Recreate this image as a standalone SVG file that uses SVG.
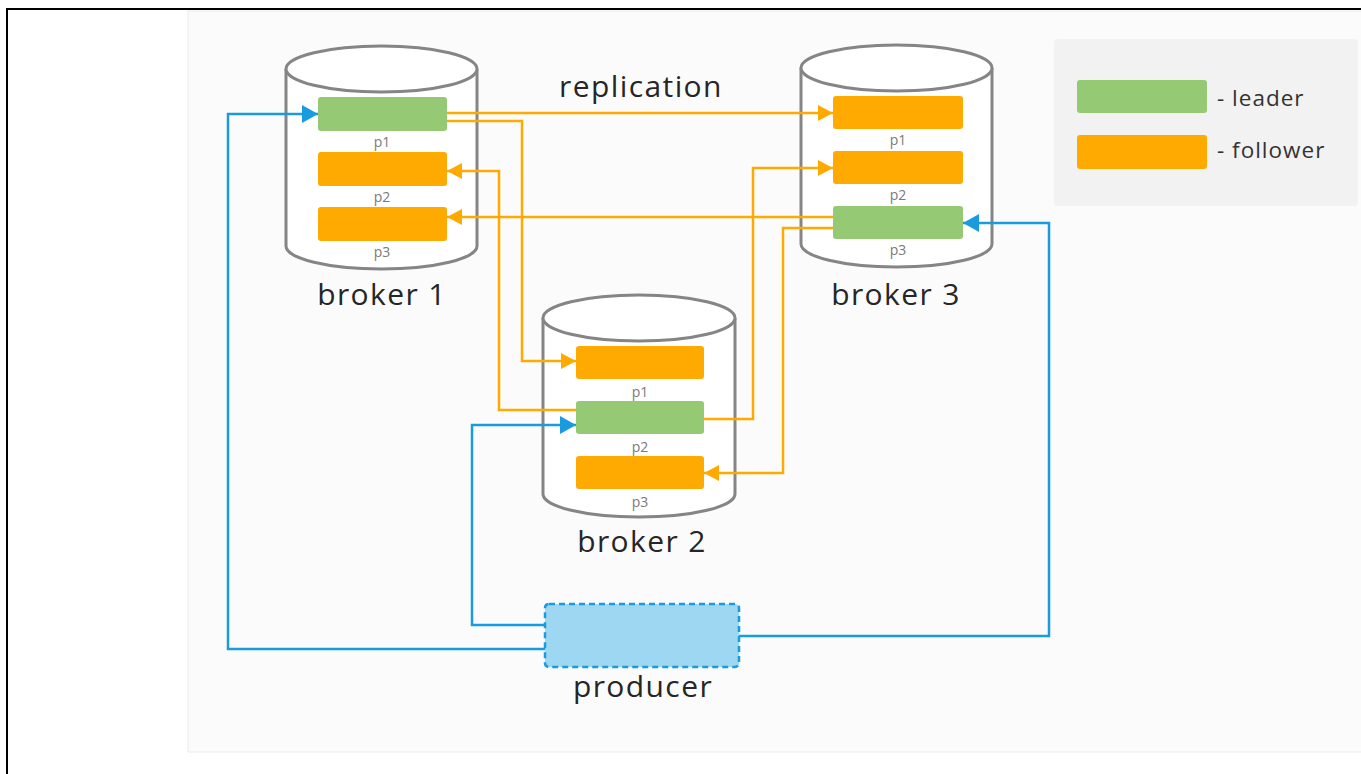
<svg xmlns="http://www.w3.org/2000/svg" width="1361" height="774" viewBox="0 0 1361 774">
<style>
.cyl{fill:#ffffff;stroke:#858585;stroke-width:3}
.lead{fill:#95c973}
.foll{fill:#ffaa00}
.pl{font-family:"Open Sans","Liberation Sans",sans-serif;font-size:14px;fill:#7a7a7a;text-anchor:middle}
.big{font-family:"Open Sans","Liberation Sans",sans-serif;font-size:30px;letter-spacing:1.4px;fill:#262626;text-anchor:middle}
.leg{font-family:"Open Sans","Liberation Sans",sans-serif;font-size:22.5px;letter-spacing:1px;fill:#333333}
.or{fill:none;stroke:#ffaa00;stroke-width:2.5;marker-end:url(#ao)}
.bl{fill:none;stroke:#1a9be0;stroke-width:2.5;marker-end:url(#ab)}
</style>
<defs>
<marker id="ao" markerUnits="userSpaceOnUse" markerWidth="16" markerHeight="16" refX="15" refY="8" orient="auto"><path d="M0,0 L15,8 L0,16 z" fill="#ffaa00"/></marker>
<marker id="ab" markerUnits="userSpaceOnUse" markerWidth="18" markerHeight="18" refX="16" refY="9" orient="auto"><path d="M0,0 L16,9 L0,18 z" fill="#1a9be0"/></marker>
</defs>
<rect x="0" y="0" width="1361" height="774" fill="#ffffff"/>
<rect x="188" y="11" width="1180" height="741" fill="#fbfbfb" stroke="#ececec" stroke-width="1"/>
<path d="M7,774 V9 H1361" fill="none" stroke="#000" stroke-width="2"/>

<g id="legend">
<rect x="1054" y="39" width="304" height="167" rx="4" fill="#f2f2f2"/>
<rect x="1077" y="80" width="130" height="33" rx="3" class="lead"/>
<rect x="1077" y="135" width="130" height="34" rx="3" class="foll"/>
<text x="1217" y="106" class="leg">- leader</text>
<text x="1217" y="158" class="leg">- follower</text>
</g>

<g id="broker1">
<path class="cyl" d="M286,69 V246 A95.5,23 0 0 0 477,246 V69"/>
<ellipse class="cyl" cx="381.5" cy="69" rx="95.5" ry="23"/>
<rect x="318" y="97" width="129" height="34" rx="3" class="lead"/>
<rect x="318" y="152" width="129" height="34" rx="3" class="foll"/>
<rect x="318" y="207" width="129" height="34" rx="3" class="foll"/>
<text x="382" y="147" class="pl">p1</text>
<text x="382" y="202" class="pl">p2</text>
<text x="382" y="257" class="pl">p3</text>
<text x="382" y="305" class="big">broker 1</text>
</g>

<g id="broker3">
<path class="cyl" d="M801,68 V244 A95.5,23 0 0 0 992,244 V68"/>
<ellipse class="cyl" cx="896.5" cy="68" rx="95.5" ry="23"/>
<rect x="833" y="96" width="130" height="33" rx="3" class="foll"/>
<rect x="833" y="151" width="130" height="33" rx="3" class="foll"/>
<rect x="833" y="206" width="130" height="33" rx="3" class="lead"/>
<text x="898" y="145" class="pl">p1</text>
<text x="898" y="200" class="pl">p2</text>
<text x="898" y="255" class="pl">p3</text>
<text x="896" y="305" class="big">broker 3</text>
</g>

<g id="broker2">
<path class="cyl" d="M543,318 V494 A96,23 0 0 0 735,494 V318"/>
<ellipse class="cyl" cx="639" cy="318" rx="96" ry="23"/>
<rect x="576" y="346" width="128" height="33" rx="3" class="foll"/>
<rect x="576" y="401" width="128" height="33" rx="3" class="lead"/>
<rect x="576" y="456" width="128" height="33" rx="3" class="foll"/>
<text x="640" y="397" class="pl">p1</text>
<text x="640" y="452" class="pl">p2</text>
<text x="640" y="507" class="pl">p3</text>
<text x="642" y="552" class="big">broker 2</text>
</g>

<g id="producer">
<rect x="545" y="604" width="194" height="63" rx="4" fill="#9dd7f2" stroke="#1a9be0" stroke-width="2.5" stroke-dasharray="6,4"/>
<text x="643" y="697" class="big">producer</text>
</g>

<g id="connectors">
<text x="641" y="97" class="big">replication</text>
<path class="or" d="M447,113 H833"/>
<path class="or" d="M447,121 H522 V361 H576"/>
<path class="or" d="M576,410 H499 V171 H447"/>
<path class="or" d="M833,217 H447"/>
<path class="or" d="M833,228 H783 V473 H704"/>
<path class="or" d="M704,419 H753 V168 H833"/>
<path class="bl" d="M545,649 H228 V114 H318"/>
<path class="bl" d="M545,625 H472 V425 H576"/>
<path class="bl" d="M739,636 H1049 V223 H963"/>
</g>
</svg>
